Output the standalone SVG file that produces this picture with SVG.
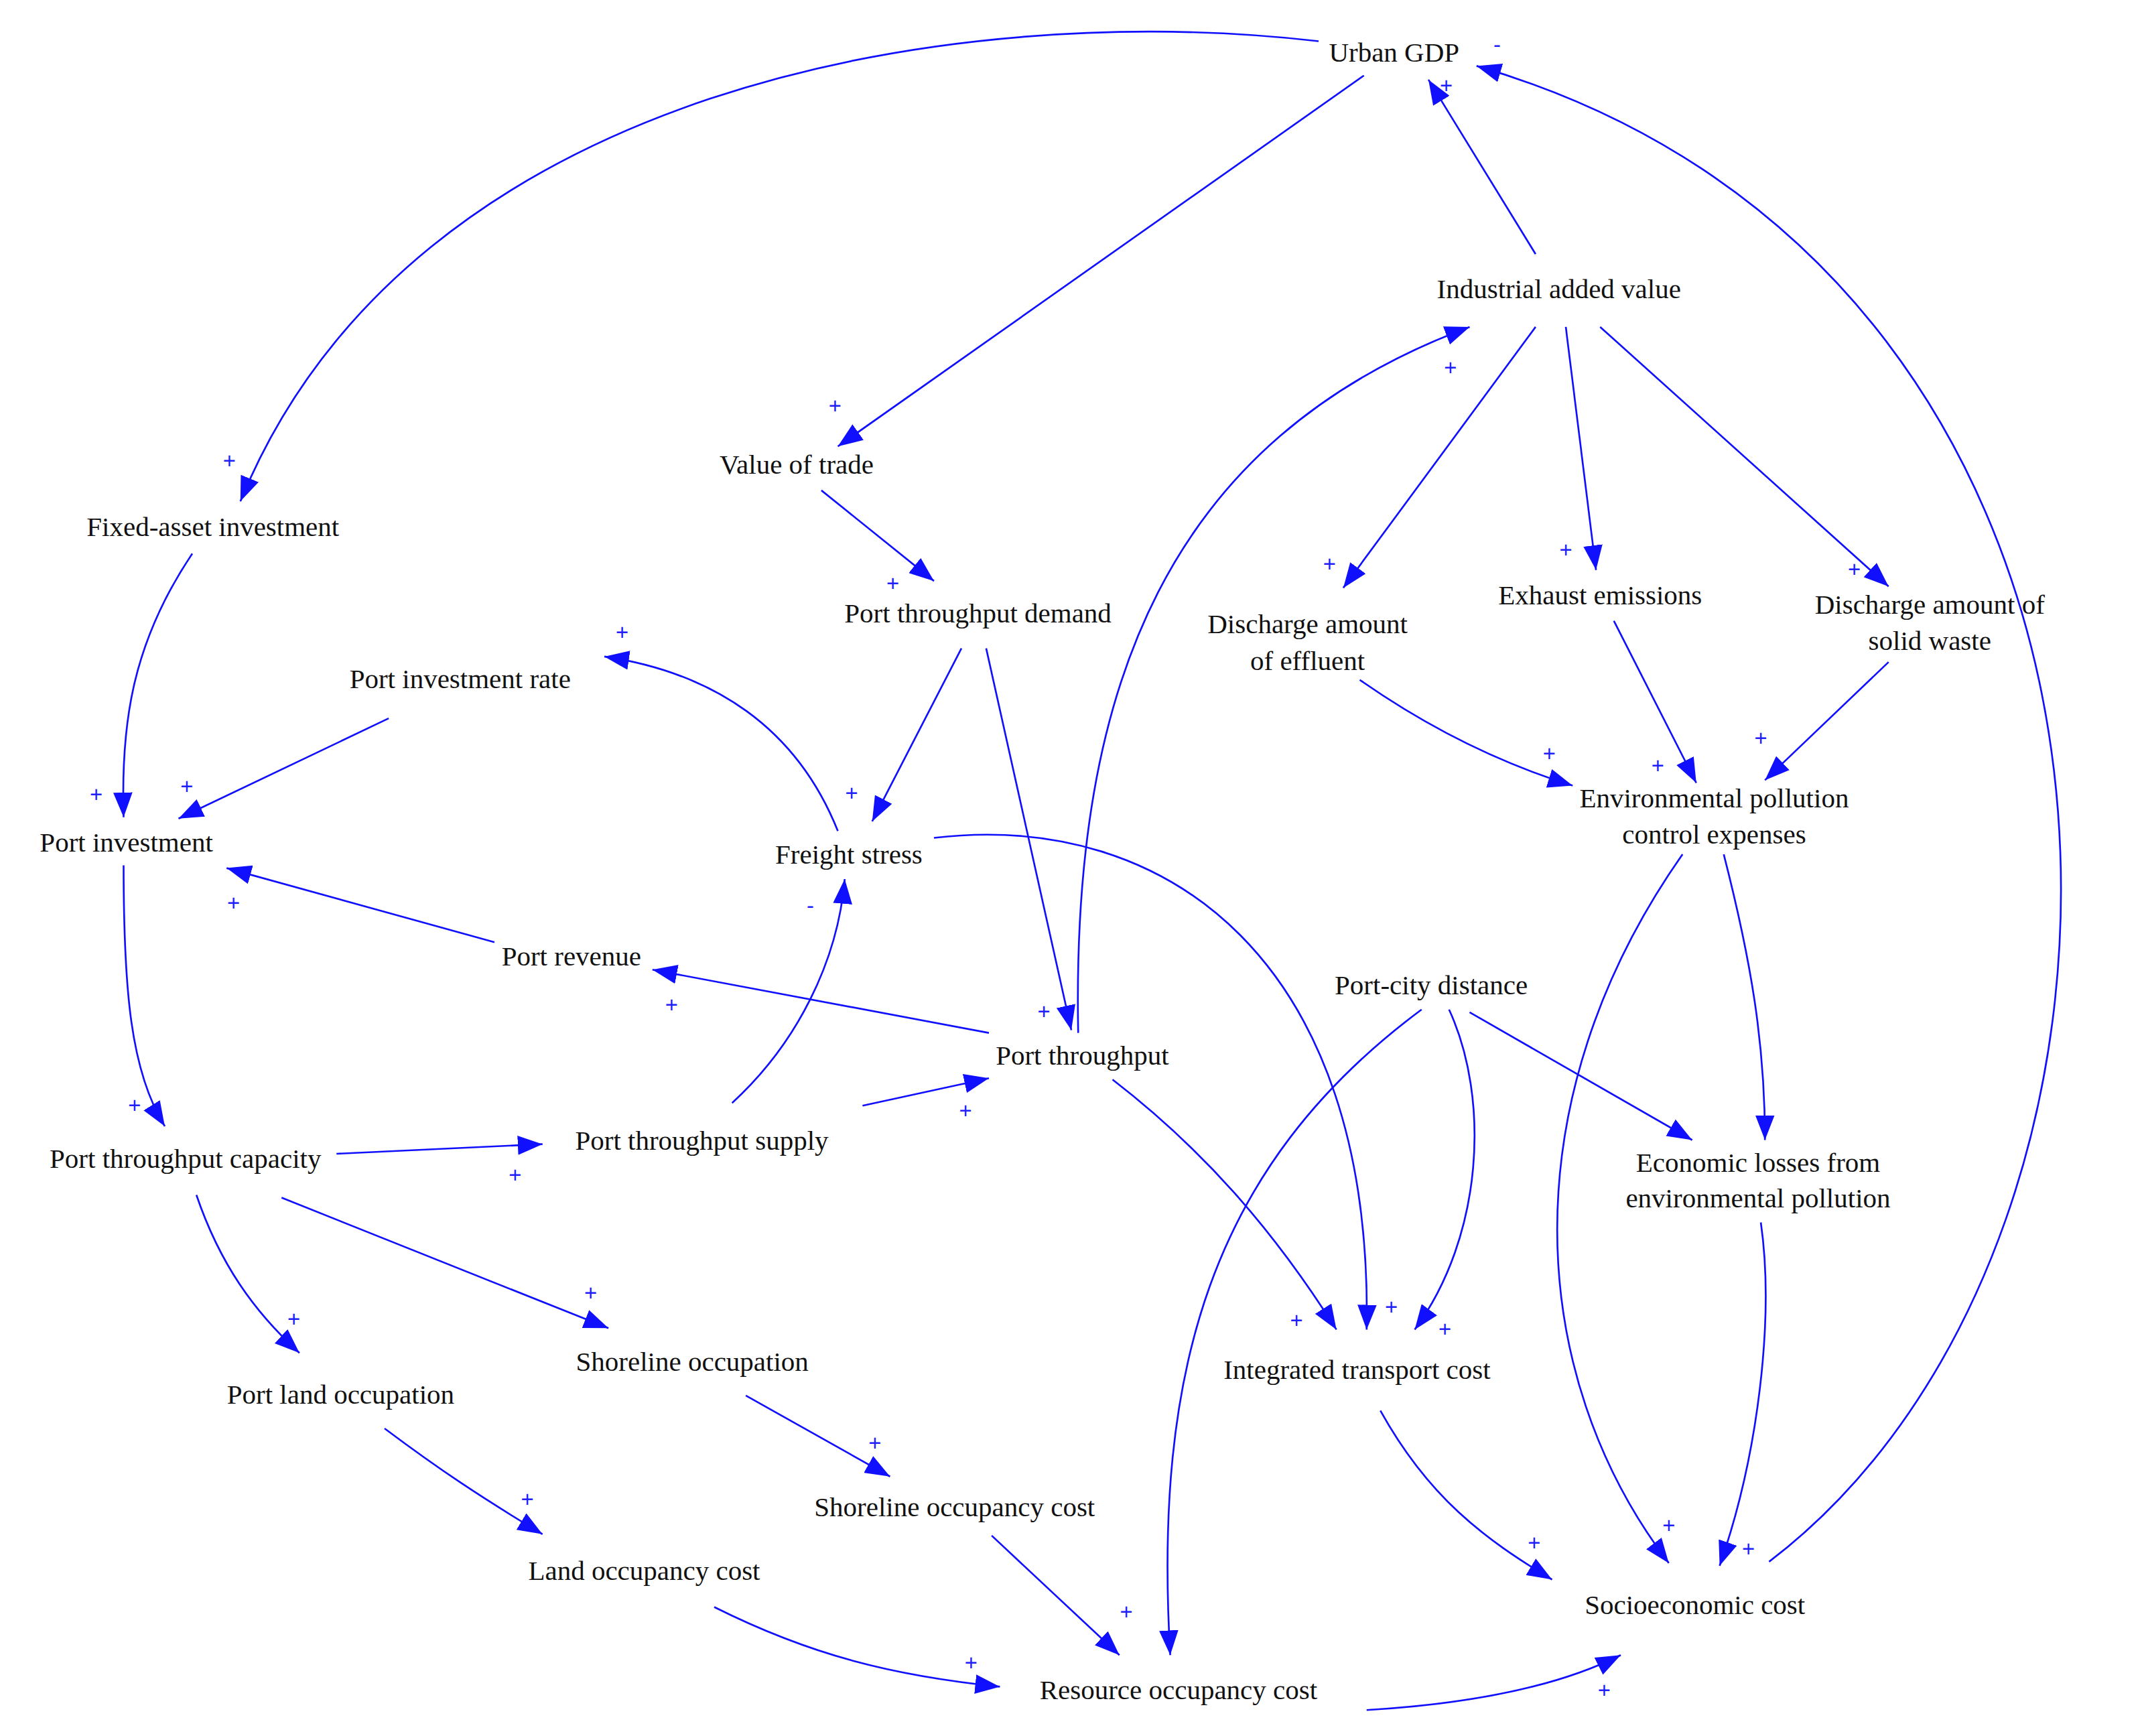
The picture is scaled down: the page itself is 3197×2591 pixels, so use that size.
<svg xmlns="http://www.w3.org/2000/svg" width="3197" height="2591" viewBox="0 0 3197 2591">
<style>
.t{font-family:"Liberation Serif",serif;font-size:20px;fill:#111;text-anchor:middle}
.s{font-family:"Liberation Sans",sans-serif;font-size:16px;fill:#2020ff;text-anchor:middle}
.e{fill:none;stroke:#1010ff;stroke-width:1.3}
</style>
<defs><marker id="a" markerUnits="userSpaceOnUse" markerWidth="20" markerHeight="14" refX="18" refY="7" orient="auto"><path d="M0,0 L18,7 L0,14 Z" fill="#1010ff"/></marker></defs>
<rect width="3197" height="2591" fill="#fff"/>
<g transform="scale(2.05)">
<g id="connectors">
<path class="e" marker-end="url(#a)" d="M960,30 C700,0 300,60 175,365"/>
<path class="e" marker-end="url(#a)" d="M993,55 L610,325"/>
<path class="e" marker-end="url(#a)" d="M1118,185 L1040,58"/>
<path class="e" marker-end="url(#a)" d="M1288,1137 C1600,900 1600,200 1075,48"/>
<path class="e" marker-end="url(#a)" d="M1118,238 L978,428"/>
<path class="e" marker-end="url(#a)" d="M1140,238 L1162,415"/>
<path class="e" marker-end="url(#a)" d="M1165,238 L1375,427"/>
<path class="e" marker-end="url(#a)" d="M785,752 C780,500 850,320 1070,238"/>
<path class="e" marker-end="url(#a)" d="M598,357 L680,423"/>
<path class="e" marker-end="url(#a)" d="M700,472 L635,598"/>
<path class="e" marker-end="url(#a)" d="M718,472 L780,750"/>
<path class="e" marker-end="url(#a)" d="M990,495 C1040,530 1090,555 1145,572"/>
<path class="e" marker-end="url(#a)" d="M1175,452 L1235,570"/>
<path class="e" marker-end="url(#a)" d="M1375,482 L1285,568"/>
<path class="e" marker-end="url(#a)" d="M610,605 C580,530 520,490 440,478"/>
<path class="e" marker-end="url(#a)" d="M680,610 C850,590 1000,700 995,968"/>
<path class="e" marker-end="url(#a)" d="M283,523 L130,596"/>
<path class="e" marker-end="url(#a)" d="M360,686 L165,632"/>
<path class="e" marker-end="url(#a)" d="M720,752 L475,706"/>
<path class="e" marker-end="url(#a)" d="M140,403 C95,470 88,530 90,595"/>
<path class="e" marker-end="url(#a)" d="M90,630 C90,720 95,780 120,820"/>
<path class="e" marker-end="url(#a)" d="M245,840 L395,833"/>
<path class="e" marker-end="url(#a)" d="M628,805 L720,785"/>
<path class="e" marker-end="url(#a)" d="M533,803 C580,760 610,700 615,640"/>
<path class="e" marker-end="url(#a)" d="M810,786 C880,840 930,900 973,968"/>
<path class="e" marker-end="url(#a)" d="M1055,735 C1085,800 1080,900 1030,968"/>
<path class="e" marker-end="url(#a)" d="M1070,737 L1232,830"/>
<path class="e" marker-end="url(#a)" d="M1035,735 C880,850 840,1000 852,1205"/>
<path class="e" marker-end="url(#a)" d="M1255,622 C1275,700 1285,760 1285,830"/>
<path class="e" marker-end="url(#a)" d="M1225,622 C1100,800 1110,1000 1215,1138"/>
<path class="e" marker-end="url(#a)" d="M1282,890 C1292,960 1280,1060 1252,1140"/>
<path class="e" marker-end="url(#a)" d="M1005,1027 C1040,1090 1080,1120 1130,1150"/>
<path class="e" marker-end="url(#a)" d="M143,870 C160,920 185,955 218,985"/>
<path class="e" marker-end="url(#a)" d="M205,872 L443,967"/>
<path class="e" marker-end="url(#a)" d="M543,1016 L648,1075"/>
<path class="e" marker-end="url(#a)" d="M280,1040 C320,1070 350,1090 395,1117"/>
<path class="e" marker-end="url(#a)" d="M722,1118 L815,1205"/>
<path class="e" marker-end="url(#a)" d="M520,1170 C590,1205 650,1220 728,1228"/>
<path class="e" marker-end="url(#a)" d="M995,1245 C1080,1240 1140,1225 1180,1205"/>
</g>
<g id="signs">
<text class="s" x="1053" y="68">+</text><text class="s" x="1090" y="38">-</text>
<text class="s" x="608" y="301">+</text><text class="s" x="167" y="341">+</text>
<text class="s" x="1056" y="273">+</text><text class="s" x="650" y="430">+</text>
<text class="s" x="968" y="416">+</text><text class="s" x="1140" y="406">+</text>
<text class="s" x="1350" y="420">+</text><text class="s" x="1282" y="543">+</text>
<text class="s" x="1207" y="563">+</text><text class="s" x="1128" y="554">+</text>
<text class="s" x="453" y="466">+</text><text class="s" x="620" y="583">+</text>
<text class="s" x="590" y="665">-</text><text class="s" x="70" y="584">+</text>
<text class="s" x="136" y="578">+</text><text class="s" x="170" y="663">+</text>
<text class="s" x="489" y="737">+</text><text class="s" x="760" y="742">+</text>
<text class="s" x="703" y="814">+</text><text class="s" x="98" y="810">+</text>
<text class="s" x="375" y="861">+</text><text class="s" x="1013" y="957">+</text>
<text class="s" x="944" y="967">+</text><text class="s" x="1052" y="973">+</text>
<text class="s" x="430" y="947">+</text><text class="s" x="214" y="966">+</text>
<text class="s" x="637" y="1056">+</text><text class="s" x="384" y="1097">+</text>
<text class="s" x="820" y="1179">+</text><text class="s" x="707" y="1216">+</text>
<text class="s" x="1117" y="1129">+</text><text class="s" x="1215" y="1116">+</text>
<text class="s" x="1273" y="1133">+</text><text class="s" x="1168" y="1236">+</text>
</g>
<g id="n1"><text class="t" x="1015" y="45">Urban GDP</text></g>
<g id="n2"><text class="t" x="1135" y="217">Industrial added value</text></g>
<g id="n3"><text class="t" x="580" y="345">Value of trade</text></g>
<g id="n4"><text class="t" x="155" y="390">Fixed-asset investment</text></g>
<g id="n5"><text class="t" x="712" y="453">Port throughput demand</text></g>
<g id="n6"><text class="t" x="952" y="461">Discharge amount</text><text class="t" x="952" y="488">of effluent</text></g>
<g id="n7"><text class="t" x="1165" y="440">Exhaust emissions</text></g>
<g id="n8"><text class="t" x="1405" y="447">Discharge amount of</text><text class="t" x="1405" y="473">solid waste</text></g>
<g id="n9"><text class="t" x="335" y="501">Port investment rate</text></g>
<g id="n10"><text class="t" x="1248" y="588">Environmental pollution</text><text class="t" x="1248" y="614">control expenses</text></g>
<g id="n11"><text class="t" x="92" y="620">Port investment</text></g>
<g id="n12"><text class="t" x="618" y="629">Freight stress</text></g>
<g id="n13"><text class="t" x="416" y="703">Port revenue</text></g>
<g id="n14"><text class="t" x="1042" y="724">Port-city distance</text></g>
<g id="n15"><text class="t" x="788" y="775">Port throughput</text></g>
<g id="n16"><text class="t" x="135" y="850">Port throughput capacity</text></g>
<g id="n17"><text class="t" x="511" y="837">Port throughput supply</text></g>
<g id="n18"><text class="t" x="1280" y="853">Economic losses from</text><text class="t" x="1280" y="879">environmental pollution</text></g>
<g id="n19"><text class="t" x="988" y="1004">Integrated transport cost</text></g>
<g id="n20"><text class="t" x="504" y="998">Shoreline occupation</text></g>
<g id="n21"><text class="t" x="248" y="1022">Port land occupation</text></g>
<g id="n22"><text class="t" x="695" y="1104">Shoreline occupancy cost</text></g>
<g id="n23"><text class="t" x="469" y="1150">Land occupancy cost</text></g>
<g id="n24"><text class="t" x="1234" y="1175">Socioeconomic cost</text></g>
<g id="n25"><text class="t" x="858" y="1237">Resource occupancy cost</text></g>
</g>
</svg>
